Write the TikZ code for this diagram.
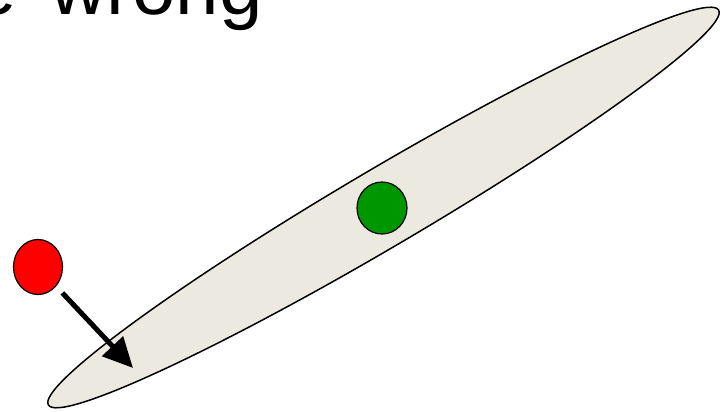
\documentclass[tikz,border=0pt]{standalone}
\usepackage{fontspec}
\setmainfont{Liberation Sans}
\usepackage{tikz}
\usetikzlibrary{shapes.geometric,arrows.meta,positioning,calc}
\usepackage{xcolor}
\definecolor{blobFill}{RGB}{236,234,224}
\definecolor{dotGreen}{RGB}{0,150,0}
\definecolor{dotRed}{RGB}{255,0,0}
\tikzset{
    blob/.style={
        ellipse,
        draw=black,
        fill=blobFill,
        line width=1.5pt,
        inner sep=0pt
    },
    dot/.style={
        ellipse,
        draw=black,
        line width=1.2pt,
        inner sep=0pt
    },
    greenDot/.style={dot, fill=dotGreen, minimum width=50pt, minimum height=52pt},
    redDot/.style={dot, fill=dotRed, minimum width=49pt, minimum height=55pt},
    bigArrow/.style={-{Triangle[length=30pt,width=28pt]}, line width=5pt, shorten <=9pt}
}
\begin{document}
\begin{tikzpicture}[x=1pt, y=-1pt,
    title/.style={font=\fontsize{78}{80}\selectfont, inner sep=0pt, anchor=base west}
]
    \useasboundingbox (0,0) rectangle (726,412);

    % Title (cut off at the top)
    \node[title] (head) at (-27,15) {e\hspace{12pt} wrong};

    % Long thin region
    \node[blob, rotate=30.5, minimum width=778pt, minimum height=78pt] (region) at (383.5,207.5) {};

    % Points
    \node[greenDot] (inside) at (382,208) {};
    \node[redDot] (outside) at (38,267) {};

    % Push towards the region
    \coordinate (target) at (133,368);
    \draw[bigArrow] (outside) -- (target);

\end{tikzpicture}
\end{document}
